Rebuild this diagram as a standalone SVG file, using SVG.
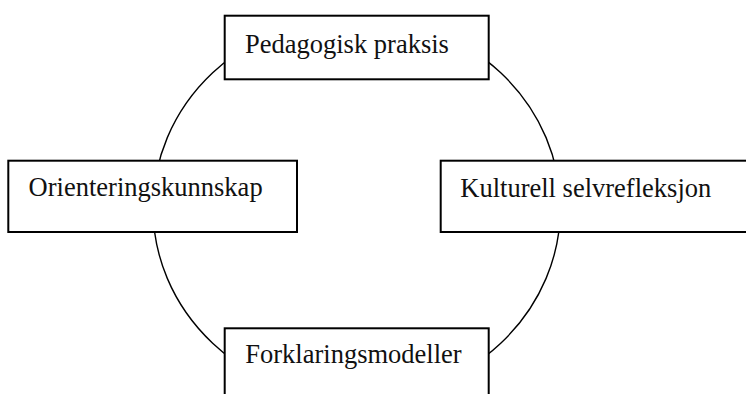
<svg xmlns="http://www.w3.org/2000/svg" width="746" height="394" viewBox="0 0 746 394">
<style>
.box{fill:#fff;stroke:#000;stroke-width:2}
.lbl{font-family:"Liberation Serif","Times New Roman",serif;font-size:26.5px;fill:#111}
.ring{fill:none;stroke:#000;stroke-width:1.4}
</style>
<rect width="746" height="394" fill="#fff"/>
<g id="connectors">
<ellipse class="ring" cx="356.7" cy="208" rx="203.7" ry="191.2"/>
</g>
<g id="node-pedagogisk">
<rect class="box" x="224.7" y="15.7" width="264" height="63.6"/>
<text class="lbl" x="245" y="53.3">Pedagogisk praksis</text>
</g>
<g id="node-orientering">
<rect class="box" x="8.3" y="160.7" width="288.7" height="71.3"/>
<text class="lbl" x="28.6" y="196">Orienteringskunnskap</text>
</g>
<g id="node-kulturell">
<rect class="box" x="440.7" y="160.7" width="320" height="71.3"/>
<text class="lbl" x="460.3" y="196.5">Kulturell selvrefleksjon</text>
</g>
<g id="node-forklaring">
<rect class="box" x="224.7" y="328.3" width="264" height="80"/>
<text class="lbl" x="245.3" y="362.7">Forklaringsmodeller</text>
</g>
</svg>
